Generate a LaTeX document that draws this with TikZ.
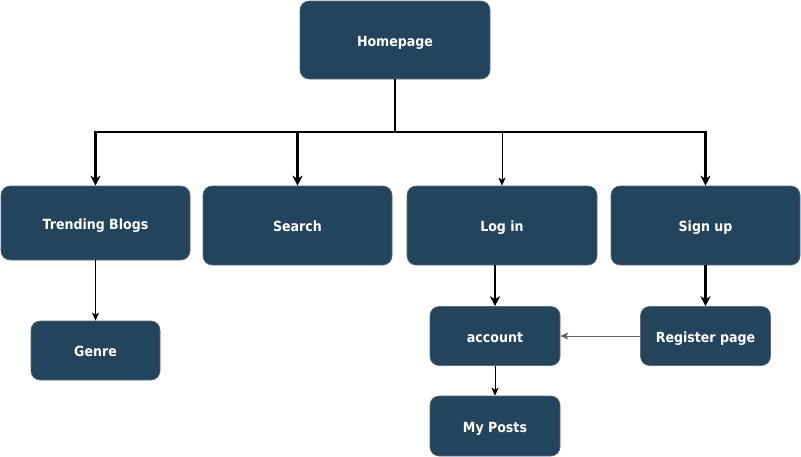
\documentclass[tikz,border=0pt]{standalone}
\usepackage{fontspec}
\setmainfont{DejaVu Sans Condensed}
\usetikzlibrary{arrows.meta}
\definecolor{boxfill}{HTML}{23445D}
\definecolor{boxline}{HTML}{5A6E7E}
\begin{document}
\begin{tikzpicture}[x=1pt,y=-1pt,
  box/.style={draw=boxline,line width=0.6pt,fill=boxfill,rounded corners=9pt,text=white,font=\bfseries\fontsize{14}{16}\selectfont,inner sep=0pt,text height=12pt,text depth=0pt},
  thick line/.style={line width=2.1pt,-{Stealth[length=10pt,width=10pt,inset=3pt]}},
  thin line/.style={line width=1pt,-{Stealth[length=8pt,width=7pt,inset=2pt]}},
  plain thick/.style={line width=2.1pt}]
\useasboundingbox (0,0) rectangle (801,456);
\node[box,minimum width=190pt,minimum height=78pt] (home) at (395,40) {Homepage};
\node[box,minimum width=189pt,minimum height=74pt] (trend) at (95.5,223) {Trending Blogs};
\node[box,minimum width=189pt,minimum height=79pt] (search) at (297.5,225.5) {Search};
\node[box,minimum width=190pt,minimum height=79pt] (login) at (502,225.5) {Log in};
\node[box,minimum width=189pt,minimum height=79pt] (signup) at (705.5,225.5) {Sign up};
\node[box,minimum width=129pt,minimum height=59pt] (genre) at (95.5,350.5) {Genre};
\node[box,minimum width=130pt,minimum height=59pt] (account) at (495,336) {account};
\node[box,minimum width=130pt,minimum height=59pt] (register) at (705.5,336) {Register page};
\node[box,minimum width=130pt,minimum height=60pt] (posts) at (495,426) {My Posts};
\coordinate (hub) at (395,132);
\coordinate (lft) at (95.5,132);
\coordinate (rgt) at (705.5,132);
\draw[plain thick] (home.south) -- (hub);
\draw[plain thick,line cap=rect] (lft) -- (rgt);
\draw[thick line] (lft) -- (trend.north);
\draw[thick line] (search.north |- hub) -- (search.north);
\draw[thin line] (login.north |- hub) -- (login.north);
\draw[thick line] (rgt) -- (signup.north);
\draw[thin line] (trend.south) -- (genre.north);
\draw[thick line] (account.north |- login.south) -- (account.north);
\draw[thick line] (signup.south) -- (register.north);
\draw[thin line,draw=gray!80!black] (register.west) -- (account.east);
\draw[thin line] (account.south) -- (posts.north);
\end{tikzpicture}
\end{document}
